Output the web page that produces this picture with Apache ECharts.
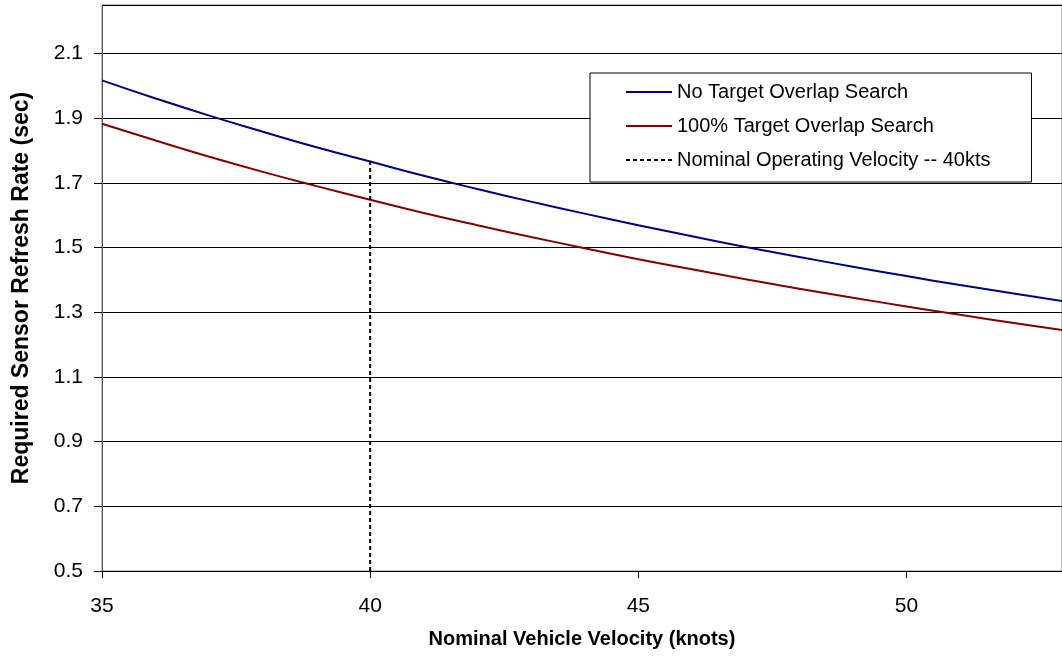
<!DOCTYPE html>
<html><head><meta charset="utf-8">
<script src="https://cdn.jsdelivr.net/npm/echarts@6/dist/echarts.min.js"></script>
<style>html,body{margin:0;padding:0;background:#fff}#c{width:1062px;height:658px}</style>
</head><body><div id="c"></div>
<script>
const velocities = [35,36,37,38,39,40,41,42,43,44,45,46,47,48,49,50,51,52,53];
const noOverlap = [2.017,1.961,1.908,1.858,1.810,1.766,1.722,1.681,1.642,1.605,1.569,1.535,1.502,1.471,1.441,1.412,1.384,1.358,1.332];
const fullOverlap = [1.883,1.831,1.781,1.734,1.690,1.648,1.607,1.569,1.533,1.498,1.464,1.433,1.402,1.373,1.345,1.318,1.292,1.267,1.243];
const nominalX = [40,40];
const nominalY = [0.5,1.766];
const seriesNames = ['No Target Overlap Search','100% Target Overlap Search','Nominal Operating Velocity -- 40kts'];

const font = 'Liberation Sans, Arial, sans-serif';
const chart = echarts.init(document.getElementById('c'), null, {renderer:'canvas'});
chart.setOption({
  animation:false,
  backgroundColor:'#fff',
  grid:{left:102, top:5, width:961, height:566, show:true, borderColor:'#808080', borderWidth:1, backgroundColor:'transparent'},
  xAxis:{type:'value', min:35, max:52.9, interval:5,
    name:'Nominal Vehicle Velocity (knots)', nameLocation:'middle', nameGap:58,
    nameTextStyle:{fontFamily:font, fontSize:20, fontWeight:'bold', color:'#000'},
    axisLine:{show:true, onZero:false, lineStyle:{color:'#000', width:1}},
    axisTick:{show:true, length:7, lineStyle:{color:'#000'}},
    axisLabel:{fontFamily:font, fontSize:21, color:'#000', margin:25, showMaxLabel:false},
    splitLine:{show:false}},
  yAxis:{type:'value', min:0.5, max:2.25, interval:0.2,
    name:'Required Sensor Refresh Rate (sec)', nameLocation:'middle', nameGap:69,
    nameTextStyle:{fontFamily:font, fontSize:23, fontWeight:'bold', color:'#000'},
    axisLine:{show:true, lineStyle:{color:'#555', width:1}},
    axisTick:{show:true, length:8, lineStyle:{color:'#000'}},
    axisLabel:{fontFamily:font, fontSize:21, color:'#000', margin:19, showMaxLabel:false,
      formatter:v=>v.toFixed(1)},
    splitLine:{show:true, lineStyle:{color:'#000', width:1}}},
  legend:{orient:'vertical', left:590, top:73, data:seriesNames,
    backgroundColor:'#fff', borderColor:'#000', borderWidth:1,
    padding:[9,41,12,35], itemGap:14, itemWidth:46, itemHeight:14,
    itemStyle:{opacity:0},
    textStyle:{fontFamily:font, fontSize:20, color:'#000', padding:[0,0,0,0]}},
  series:[
    {name:seriesNames[0], type:'line', smooth:true, symbol:'none', data:velocities.map((v,i)=>[v,noOverlap[i]]),
      lineStyle:{color:'#000080', width:2}, itemStyle:{color:'#000080'}},
    {name:seriesNames[1], type:'line', smooth:true, symbol:'none', data:velocities.map((v,i)=>[v,fullOverlap[i]]),
      lineStyle:{color:'#800000', width:2}, itemStyle:{color:'#800000'}},
    {name:seriesNames[2], type:'line', symbol:'none', data:nominalX.map((v,i)=>[v,nominalY[i]]),
      lineStyle:{color:'#000', width:2, type:[4,3]}, itemStyle:{color:'#000'}}
  ]
});
</script></body></html>
